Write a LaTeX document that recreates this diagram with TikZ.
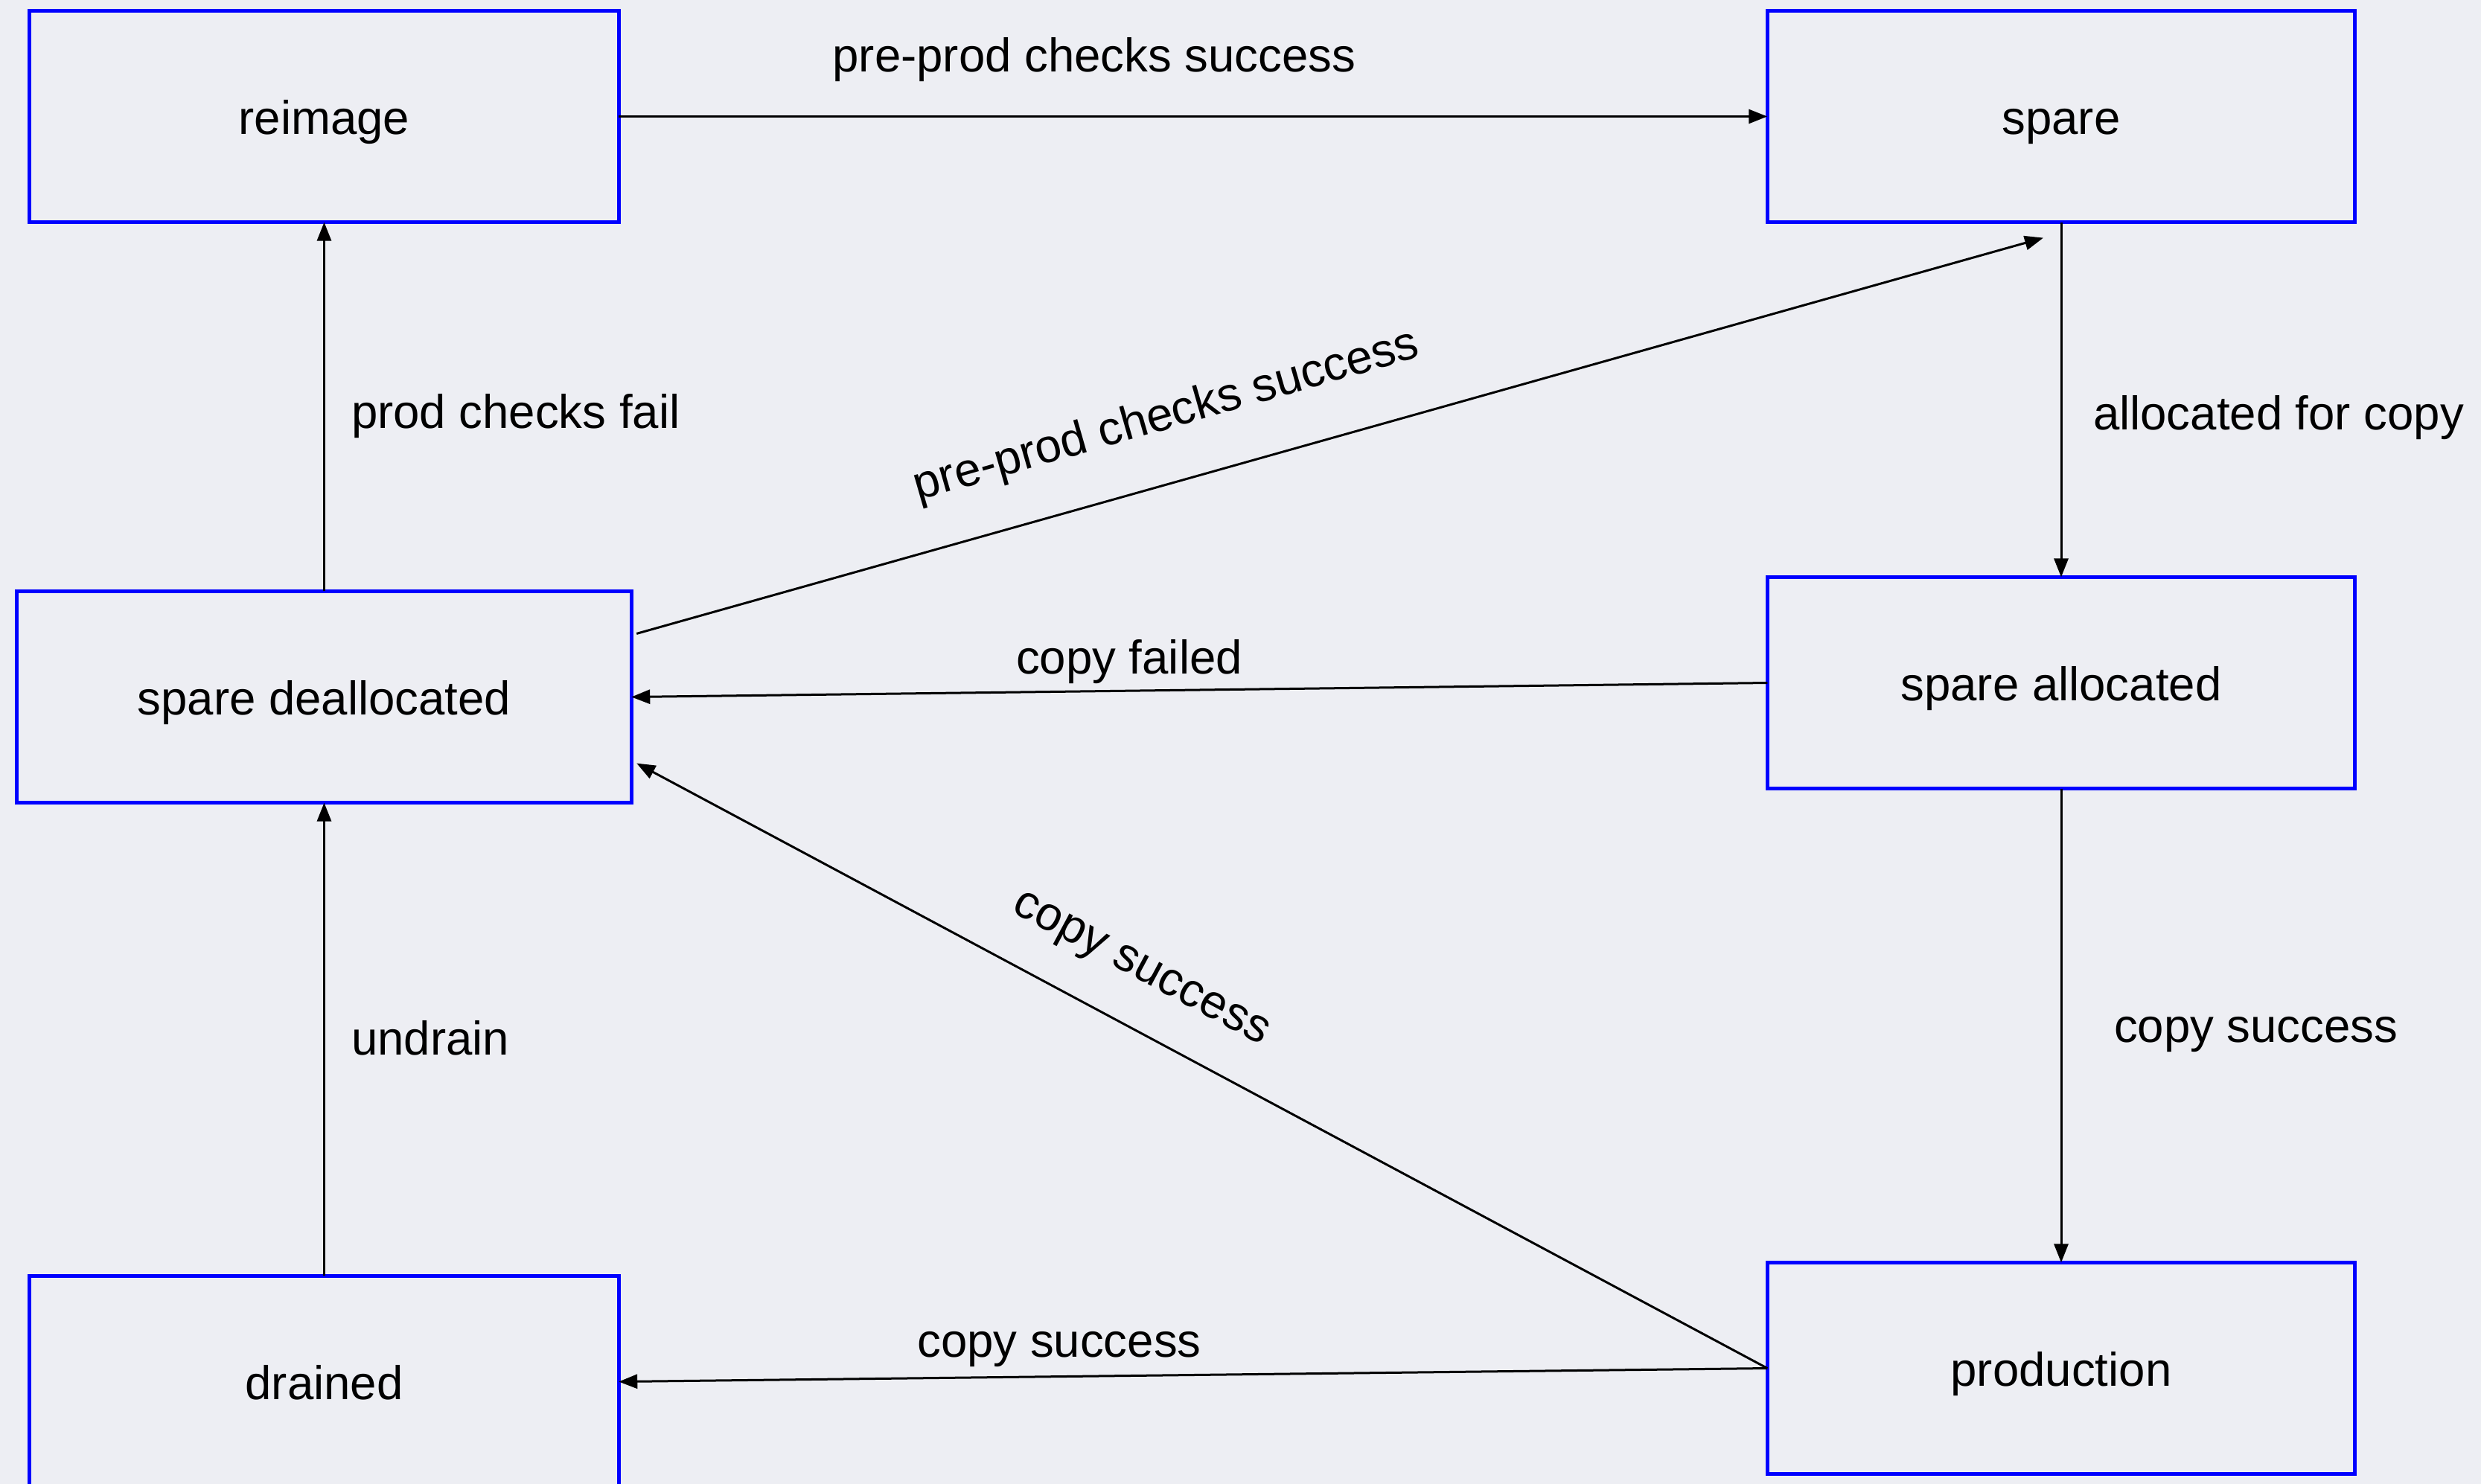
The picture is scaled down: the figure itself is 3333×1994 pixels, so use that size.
\documentclass[tikz,border=0pt]{standalone}
\usepackage{fontspec}
\setmainfont{Liberation Sans}
\usetikzlibrary{arrows.meta}
\definecolor{canvas}{RGB}{237,238,243}
\definecolor{stateblue}{RGB}{0,0,255}
\begin{document}
\begin{tikzpicture}[x=0.01cm, y=-0.01cm,
  every node/.style={font=\fontsize{18.07pt}{21pt}\selectfont, inner sep=0pt, outer sep=0pt},
  state/.style={draw=stateblue, line width=0.05cm, minimum height=2.84cm,
                text height=0.62cm, text depth=0.14cm},
  arr/.style={-{Triangle[length=0.25cm,width=0.19cm]}, line width=0.03cm}]
  % page and background
  \fill[canvas] (0,0) rectangle (3333,1994);
  \useasboundingbox (0,0) rectangle (3333,1994);
  \clip (0,0) rectangle (3333,1994);

  % states
  \node[state, minimum width=7.91cm] (reimage) at (435.5,156.5) {reimage};
  \node[state, minimum width=7.89cm] (spare)   at (2769,156.5)  {spare};
  \node[state, minimum width=8.25cm] (sd)      at (435.5,936.5) {spare deallocated};
  \node[state, minimum width=7.89cm] (sa)      at (2769,917.5)  {spare allocated};
  \node[state, minimum width=7.91cm] (drained) at (435.5,1856.5) {drained};
  \node[state, minimum width=7.89cm] (prod)    at (2769,1838.5) {production};

  % free ends of the slanted transitions
  \coordinate (ppStart) at ([shift={(7,57)}]sd.north east);
  \coordinate (ppEnd)   at ([shift={(-24,21)}]spare.south);
  \coordinate (csEnd)   at ([shift={(7,-53)}]sd.south east);

  % transitions
  \draw[arr] (reimage.east) -- (spare.west);
  \draw[arr] (sd.north) -- (reimage.south);
  \draw[arr] (drained.north) -- (sd.south);
  \draw[arr] (spare.south) -- (sa.north);
  \draw[arr] (sa.south) -- (prod.north);
  \draw[arr] (sa.west) -- (sd.east);
  \draw[arr] (prod.west) -- (drained.east);
  \draw[arr] (prod.west) -- (csEnd);
  \draw[arr] (ppStart) -- (ppEnd);

  % transition labels
  \node[anchor=base] (lTop) at (1470,97) {pre-prod checks success};
  \node[anchor=base west] (lFail) at (472,575) {prod checks fail};
  \node[anchor=base west] (lAlloc) at (2812,577) {allocated for copy};
  \node[anchor=base] (lCopyFailed) at (1517,905) {copy failed};
  \node[anchor=base west] (lCopyR) at (2840,1400) {copy success};
  \node[anchor=base west] (lUndrain) at (472,1417) {undrain};
  \node[anchor=base] (lCopyB) at (1423,1823) {copy success};
  \node[rotate=16] (lDiagUp) at (1567,560) {pre-prod checks success};
  \node[rotate=-28.2] (lDiagDown) at (1531,1305) {copy success};
\end{tikzpicture}
\end{document}
